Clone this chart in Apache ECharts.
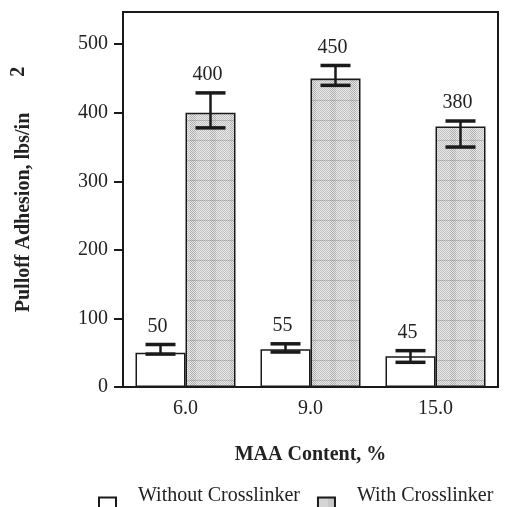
<!DOCTYPE html>
<html>
<head>
<meta charset="utf-8">
<script src="https://cdn.jsdelivr.net/npm/echarts@6/dist/echarts.min.js"></script>
<style>html,body{margin:0;padding:0;background:#fff}#c{width:507px;height:507px}</style>
</head>
<body>
<div id="c"></div>
<script>
const categories = ['6.0', '9.0', '15.0'];
const withoutValues = [50, 55, 45];
const withValues = [400, 450, 380];
const withoutLow = [48, 51, 36];
const withoutHigh = [62, 63, 53];
const withLow = [378, 440, 350];
const withHigh = [429, 469, 388];
const yTicks = [0, 100, 200, 300, 400, 500];
const seriesNames = ['Without Crosslinker', 'With Crosslinker'];

function makePattern() {
  const c = document.createElement('canvas');
  c.width = 20; c.height = 20;
  const g = c.getContext('2d');
  g.fillStyle = '#e8e8e8';
  g.fillRect(0, 0, 20, 20);
  for (let y = 0; y < 20; y++) {
    for (let x = 0; x < 20; x++) {
      if ((x + y) % 2 === 0) {
        g.fillStyle = (x >= 10 && x < 16) ? '#ababab' : '#c2c2c2';
        g.fillRect(x, y, 1, 1);
      }
    }
  }
  g.fillStyle = 'rgba(120,120,120,0.35)';
  g.fillRect(0, 0, 20, 1);
  return c;
}
const pattern = { image: makePattern(), repeat: 'repeat' };

const FONT = '"Liberation Serif", "Times New Roman", serif';
const BAR_W = 50;

function errData(low, high, vals) {
  return categories.map((c, i) => [i, low[i], high[i], vals[i]]);
}

function makeErrRender(offsetSign) {
  return function (params, api) {
    const i = api.value(0);
    const pLow = api.coord([i, api.value(1)]);
    const pHigh = api.coord([i, api.value(2)]);
    const x = pLow[0] + offsetSign * BAR_W / 2;
    const cap = 15;
    const st = { stroke: '#1a1a1a', lineWidth: 3.5 };
    return {
      type: 'group',
      children: [
        { type: 'line', shape: { x1: x, y1: pHigh[1], x2: x, y2: pLow[1] }, style: { stroke: '#1a1a1a', lineWidth: 2.5 } },
        { type: 'line', shape: { x1: x - cap, y1: pHigh[1], x2: x + cap, y2: pHigh[1] }, style: st },
        { type: 'line', shape: { x1: x - cap, y1: pLow[1], x2: x + cap, y2: pLow[1] }, style: st },
        { type: 'text', x: x - 3, y: pHigh[1] - 8,
          style: { text: String(api.value(3)), font: '20px ' + FONT, fill: '#222', align: 'center', verticalAlign: 'bottom' } }
      ]
    };
  };
}

const chart = echarts.init(document.getElementById('c'));
chart.setOption({
  animation: false,
  backgroundColor: '#fff',
  grid: { left: 123, right: 9, top: 12, bottom: 120, show: true, borderColor: '#1a1a1a', borderWidth: 2, backgroundColor: 'transparent' },
  legend: {
    left: 98, top: 486, padding: 0,
    icon: 'rect',
    itemWidth: 17, itemHeight: 17, itemGap: 17,
    data: seriesNames,
    formatter: '{a|{name}}',
    textStyle: {
      fontFamily: FONT, fontSize: 20, color: '#222',
      rich: { a: { fontFamily: FONT, fontSize: 20, color: '#222', padding: [0, 0, 20, 17] } }
    }
  },
  xAxis: {
    type: 'category',
    data: categories,
    axisLine: { lineStyle: { color: '#1a1a1a', width: 2 } },
    axisTick: { alignWithLabel: true, length: 7, lineStyle: { color: '#1a1a1a', width: 2 } },
    axisLabel: { fontFamily: FONT, fontSize: 20, color: '#222', margin: 12 },
    name: 'MAA Content, %',
    nameLocation: 'middle',
    nameGap: 58,
    nameTextStyle: { fontFamily: FONT, fontSize: 20, fontWeight: 'bold', color: '#222', verticalAlign: 'top' }
  },
  yAxis: {
    type: 'value',
    min: 0, max: 547, interval: 100,
    splitLine: { show: false },
    axisLine: { show: true, lineStyle: { color: '#1a1a1a', width: 2 } },
    axisTick: { show: true, length: 9, customValues: yTicks, lineStyle: { color: '#1a1a1a', width: 2 } },
    axisLabel: { fontFamily: FONT, fontSize: 20, color: '#222', margin: 15, customValues: yTicks },
    name: '{t|Pulloff Adhesion, lbs/in}{g|}{s|2}',
    nameLocation: 'middle',
    nameGap: 84,
    nameTextStyle: {
      rich: {
        t: { fontFamily: FONT, fontSize: 20, fontWeight: 'bold', color: '#222', padding: [0, 0, 0, 20] },
        g: { width: 36 },
        s: { fontFamily: FONT, fontSize: 20, fontWeight: 'bold', color: '#222', padding: [0, 0, 10, 0] }
      }
    }
  },
  series: [
    {
      name: seriesNames[0], type: 'bar', data: withoutValues, barWidth: BAR_W, barGap: '0%',
      itemStyle: { color: '#ffffff', borderColor: '#1a1a1a', borderWidth: 1.5 }
    },
    {
      name: seriesNames[1], type: 'bar', data: withValues, barWidth: BAR_W, barGap: '0%',
      itemStyle: { color: pattern, borderColor: '#1a1a1a', borderWidth: 1.5 }
    },
    { type: 'custom', data: errData(withoutLow, withoutHigh, withoutValues), renderItem: makeErrRender(-1), z: 5, silent: true },
    { type: 'custom', data: errData(withLow, withHigh, withValues), renderItem: makeErrRender(1), z: 5, silent: true }
  ]
});
</script>
</body>
</html>
